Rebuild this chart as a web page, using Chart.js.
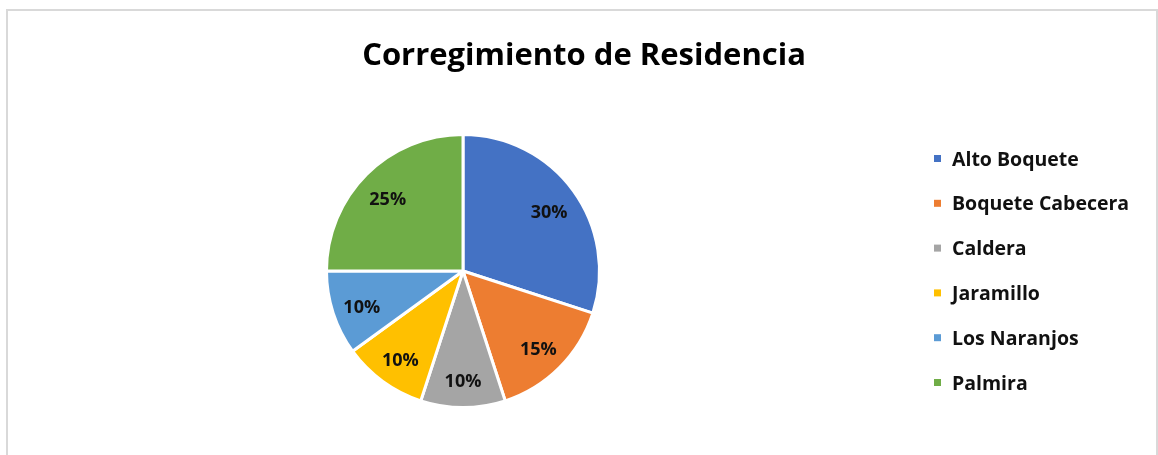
<!DOCTYPE html>
<html>
<head>
<meta charset="utf-8">
<script src="https://cdn.jsdelivr.net/npm/chart.js@4.4.0/dist/chart.umd.min.js"></script>
<style>
  body { margin: 0; background: #fff; }
  #wrap { position: relative; width: 1158px; height: 455px; overflow: hidden; }
  #frame { position: absolute; left: 6px; top: 9px; width: 1148px; height: 470px; border: 2px solid #d9d9d9; }
  canvas { position: absolute; left: 0; top: 0; }
</style>
</head>
<body>
<div id="wrap">
  <div id="frame"></div>
  <canvas id="pie" width="1158" height="455"></canvas>
</div>
<script>
const chartTitle = "Corregimiento de Residencia";
const categories = ["Alto Boquete", "Boquete Cabecera", "Caldera", "Jaramillo", "Los Naranjos", "Palmira"];
const shares = [30, 15, 10, 10, 10, 25];
const colors = ["#4472C4", "#ED7D31", "#A5A5A5", "#FFC000", "#5B9BD5", "#70AD47"];

const FONT = "'Open Sans', Lato, sans-serif";

// title, slice labels and legend drawn on the canvas after the pie
const decor = {
  id: "decor",
  afterDraw(chart) {
    const ctx = chart.ctx;
    ctx.save();
    ctx.fillStyle = "#000";
    ctx.textAlign = "center";
    ctx.textBaseline = "middle";
    ctx.font = "bold 31px " + FONT;
    ctx.fillText(chartTitle, 584, 56);

    const arcs = chart.getDatasetMeta(0).data;
    const total = shares.reduce((a, b) => a + b, 0);
    ctx.font = "bold 18px " + FONT;
    ctx.fillStyle = "#111";
    arcs.forEach((arc, i) => {
      const mid = (arc.startAngle + arc.endAngle) / 2;
      const r = arc.outerRadius * 0.78;
      const pct = Math.round(shares[i] / total * 100) + "%";
      ctx.fillText(pct, arc.x + Math.cos(mid) * r, arc.y + Math.sin(mid) * r + 4);
    });

    ctx.textAlign = "left";
    ctx.font = "bold 19.5px " + FONT;
    categories.forEach((c, i) => {
      const y = 159 + i * 44.8;
      ctx.fillStyle = colors[i];
      ctx.fillRect(934, y - 4, 7, 7);
      ctx.fillStyle = "#111";
      ctx.fillText(c, 952, y + 1);
    });
    ctx.restore();
  }
};

new Chart(document.getElementById("pie"), {
  type: "pie",
  data: {
    labels: categories,
    datasets: [{
      data: shares,
      backgroundColor: colors,
      borderColor: "#fff",
      borderWidth: 3
    }]
  },
  options: {
    responsive: false,
    devicePixelRatio: 1,
    animation: false,
    layout: { padding: { top: 133, bottom: 46, left: 325, right: 557 } },
    plugins: {
      legend: { display: false },
      tooltip: { enabled: false },
      title: { display: false }
    }
  },
  plugins: [decor]
});
</script>
</body>
</html>
